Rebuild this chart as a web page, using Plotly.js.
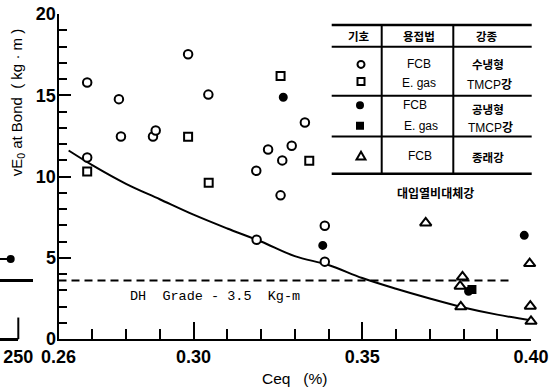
<!DOCTYPE html>
<html><head><meta charset="utf-8">
<script src="https://cdn.plot.ly/plotly-3.0.1.min.js"></script>
<style>html,body{margin:0;padding:0;background:#fff}#chart{width:549px;height:392px}</style>
</head><body><div id="chart"></div>
<script>
// ---- data ----
const openCircleX = [0.2685, 0.2779, 0.2785, 0.2880, 0.2888, 0.2984, 0.3044, 0.2685, 0.3221, 0.3291, 0.3263, 0.3186, 0.3258, 0.3330, 0.3187, 0.3389, 0.3389];
const openCircleY = [15.78, 14.76, 12.46, 12.46, 12.83, 17.52, 15.04, 11.17, 11.66, 11.89, 10.99, 10.35, 8.84, 13.32, 6.11, 6.97, 4.76];
const openSquareX = [0.2685, 0.2984, 0.3045, 0.3258, 0.3343];
const openSquareY = [10.31, 12.44, 9.62, 16.19, 10.97];
const filledCircleX = [0.3266, 0.3383, 0.3980, 0.3815];
const filledCircleY = [14.88, 5.76, 6.38, 2.94];
const filledSquareX = [0.3825];
const filledSquareY = [3.04];
const triangleX = [0.3688, 0.3797, 0.3790, 0.3792, 0.3996, 0.3998, 0.4000];
const triangleY = [7.14, 3.82, 3.25, 1.98, 4.64, 2.02, 1.09];
const fitX = [0.263, 0.270, 0.280, 0.290, 0.300, 0.310, 0.320, 0.330, 0.340, 0.350, 0.360, 0.370, 0.380, 0.390, 0.400];
const fitY = [11.6, 10.7, 9.55, 8.6, 7.65, 6.8, 6.0, 5.1, 4.55, 3.75, 3.09, 2.49, 1.94, 1.5, 1.15];
const dhGrade = 3.6;
const dhX = [0.26, 0.394];
const xTickVals = [0.26, 0.30, 0.35, 0.40];
const xTickText = ['0.26', '0.30', '0.35', '0.40'];
// fragment of the neighbouring panel at the left edge
const fragLineX = [220, 239.6];
const fragLineY = [4.93, 4.93];
const fragPointX = [239.6];
const fragPointY = [4.93];
const fragTickVals = [250];
const fragTickText = ['250'];

// ---- layout helpers (pixel -> paper) ----
const W = 549, PT = 14, PB = 339.5;
const PX = v => v / W;
const PY = v => (PB - v) / (PB - PT);

const tickFont = {family: 'Liberation Sans Narrow, Liberation Sans, Arial, sans-serif', size: 18, color: '#000', weight: 'bold'};
const korFont = {family: 'Noto Sans CJK KR, sans-serif', size: 11.5, color: '#000', weight: 'bold'};
const latFont = {family: 'Liberation Sans, Arial, sans-serif', size: 12, color: '#000'};
const mixFont = {family: 'Liberation Sans, Noto Sans CJK KR, sans-serif', size: 12, color: '#000'};

const blk = '#000';
const mk = (sym, size, fill) => ({symbol: sym, size: size, color: fill, line: {color: blk, width: 2}});

const traces = [
  {x: fitX, y: fitY, mode: 'lines', line: {color: blk, width: 2, shape: 'spline'}, hoverinfo: 'skip'},
  {x: dhX, y: [dhGrade, dhGrade], mode: 'lines', line: {color: blk, width: 2, dash: '8px,5px'}, hoverinfo: 'skip'},
  {x: openCircleX, y: openCircleY, mode: 'markers', marker: mk('circle', 8.5, '#fff'), cliponaxis: false},
  {x: openSquareX, y: openSquareY, mode: 'markers', marker: mk('square', 8, '#fff'), cliponaxis: false},
  {x: filledCircleX, y: filledCircleY, mode: 'markers', marker: mk('circle', 7, blk), cliponaxis: false},
  {x: filledSquareX, y: filledSquareY, mode: 'markers', marker: mk('square', 7, blk), cliponaxis: false},
  {x: triangleX, y: triangleY, mode: 'markers', marker: mk('triangle-up', 10, '#fff'), cliponaxis: false},
  {x: fragLineX, y: fragLineY, xaxis: 'x2', yaxis: 'y', mode: 'lines', line: {color: blk, width: 2}},
  {x: fragPointX, y: fragPointY, xaxis: 'x2', yaxis: 'y', mode: 'markers', marker: {size: 8, color: blk, symbol: 'circle'}, cliponaxis: false}
];

const hl = (x0, x1, y, w) => ({type: 'line', xref: 'paper', yref: 'paper', x0: PX(x0), x1: PX(x1), y0: PY(y), y1: PY(y), line: {color: blk, width: w}});
const vl = (x, y0, y1, w) => ({type: 'line', xref: 'paper', yref: 'paper', x0: PX(x), x1: PX(x), y0: PY(y0), y1: PY(y1), line: {color: blk, width: w}});
// legend key glyphs (centre cx, cy; size s in px)
const keyCircle = (cx, cy, s, fill) => ({type: 'circle', xref: 'paper', yref: 'paper', x0: PX(cx - s / 2), x1: PX(cx + s / 2), y0: PY(cy + s / 2), y1: PY(cy - s / 2), line: {color: blk, width: 2}, fillcolor: fill});
const keyRect = (cx, cy, s, fill) => ({type: 'rect', xref: 'paper', yref: 'paper', x0: PX(cx - s / 2), x1: PX(cx + s / 2), y0: PY(cy + s / 2), y1: PY(cy - s / 2), line: {color: blk, width: 2}, fillcolor: fill});
const keyTri = (cx, cy, s) => ({type: 'path', xref: 'paper', yref: 'paper',
  path: `M ${PX(cx - s / 2)} ${PY(cy + s * 0.42)} L ${PX(cx + s / 2)} ${PY(cy + s * 0.42)} L ${PX(cx)} ${PY(cy - s * 0.45)} Z`,
  line: {color: blk, width: 2}, fillcolor: '#fff'});

const shapes = [
  hl(331.7, 531.7, 25, 2.5), hl(331.7, 531.7, 46.7, 2), hl(331.7, 531.7, 96, 2),
  hl(331.7, 531.7, 136.7, 2), hl(331.7, 531.7, 174, 2.5),
  vl(381.7, 25, 174, 2), vl(453.3, 25, 174, 2),
  keyCircle(361, 64.5, 7, '#fff'), keyRect(361, 81.5, 7, '#fff'),
  keyCircle(360, 105.5, 6, blk), keyRect(360, 126, 6, blk),
  keyTri(361, 156, 9),
  {type: 'line', xref: 'paper', yref: 'y', x0: 0, x1: PX(33), y0: dhGrade, y1: dhGrade, line: {color: blk, width: 3}},
  // cropped axis of the neighbouring panel
  hl(0, 18.3, 339.5, 2), vl(18.3, 318, 339.5, 2)
];

const ann = (text, x, y, font) => ({text: text, xref: 'paper', yref: 'paper', x: PX(x), y: PY(y), xanchor: 'center', yanchor: 'middle', showarrow: false, font: font});

const annotations = [
  ann('기호', 359, 36.5, korFont), ann('용접법', 419, 36.5, korFont), ann('강종', 487, 36.5, korFont),
  ann('FCB', 419, 64, latFont), ann('E. gas', 419, 83, latFont),
  ann('<b>수냉형</b>', 488, 64, korFont), ann('TMCP<b>강</b>', 489, 85, mixFont),
  ann('FCB', 415, 105.5, latFont), ann('E. gas', 421, 126.5, latFont),
  ann('<b>공냉형</b>', 488, 109.5, korFont), ann('TMCP<b>강</b>', 490, 128.5, mixFont),
  ann('FCB', 420, 156, latFont), ann('<b>종래강</b>', 488, 157.5, korFont),
  ann('<b>대입열비대체강</b>', 435, 192.5, {family: 'Noto Sans CJK KR, sans-serif', size: 12, color: '#000'}),
  {text: 'DH\u00a0\u00a0Grade\u00a0-\u00a03.5\u00a0\u00a0Kg-m', xref: 'x', yref: 'y', x: 0.2807, y: 2.6,
   xanchor: 'left', yanchor: 'middle', showarrow: false, font: {family: 'Liberation Mono, DejaVu Sans Mono, monospace', size: 13.5, color: '#000'}},
  {text: 'vE<sub>0</sub> at Bond\u00a0\u00a0( kg · m )', xref: 'paper', yref: 'paper', x: PX(17), y: PY(102.5),
   xanchor: 'center', yanchor: 'middle', textangle: -90, showarrow: false,
   font: {family: 'Liberation Sans, Arial, sans-serif', size: 15, color: '#000'}}
];

const layout = {
  width: 549, height: 392,
  margin: {l: 0, r: 0, t: PT, b: 392 - PB},
  paper_bgcolor: '#fff', plot_bgcolor: 'rgba(0,0,0,0)',
  showlegend: false,
  font: {family: 'Liberation Sans, Arial, sans-serif', color: '#000'},
  xaxis: {
    domain: [PX(58.5), PX(531)], range: [0.26, 0.40], anchor: 'y',
    tickmode: 'array', tickvals: xTickVals, ticktext: xTickText,
    ticks: 'inside', ticklen: 17, tickwidth: 2, tickcolor: blk,
    minor: {tickmode: 'linear', tick0: 0.26, dtick: 0.01, ticks: 'inside', ticklen: 10, tickwidth: 2, tickcolor: blk},
    showline: true, linewidth: 2, linecolor: blk, showgrid: false, zeroline: false,
    tickfont: tickFont, ticklabeloverflow: 'allow',
    title: {text: '\u00a0\u00a0\u00a0\u00a0Ceq\u00a0\u00a0\u00a0(%)', font: {family: 'Liberation Sans, Arial, sans-serif', size: 15.5, color: '#000'}, standoff: 8}
  },
  yaxis: {
    range: [0, 20], anchor: 'x', domain: [0, 1],
    tickmode: 'linear', tick0: 0, dtick: 5,
    ticks: 'inside', ticklen: 12, tickwidth: 2, tickcolor: blk,
    minor: {dtick: 1, ticks: 'inside', ticklen: 8, tickwidth: 2, tickcolor: blk},
    showline: true, linewidth: 2, linecolor: blk, showgrid: false, zeroline: false,
    tickfont: tickFont, ticklabelstandoff: -3, ticklabeloverflow: 'allow'
  },
  xaxis2: {
    domain: [0, PX(18.3)], range: [225, 250], anchor: 'y',
    tickmode: 'array', tickvals: fragTickVals, ticktext: fragTickText,
    ticks: 'inside', ticklen: 21, tickwidth: 2, tickcolor: blk,
    showline: true, linewidth: 2, linecolor: blk, showgrid: false, zeroline: false,
    tickfont: tickFont, ticklabeloverflow: 'allow'
  },
  shapes: shapes,
  annotations: annotations
};

Plotly.newPlot('chart', traces, layout, {displayModeBar: false, staticPlot: true});
</script>
</body></html>
